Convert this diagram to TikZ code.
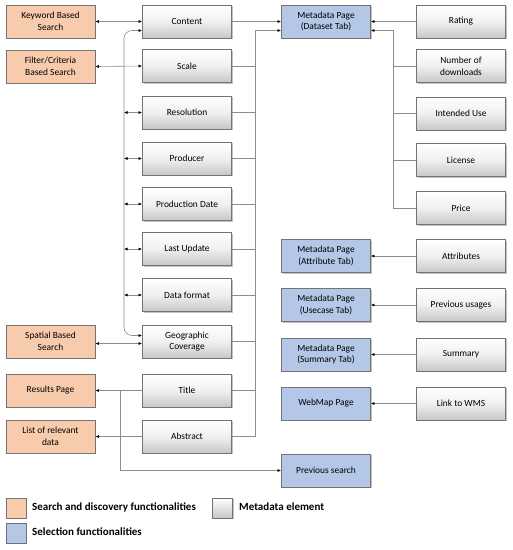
\documentclass[tikz,border=0pt]{standalone}
\usepackage{fontspec}
\setmainfont{Carlito}
\usetikzlibrary{arrows.meta,shadows,calc}
\begin{document}
\begin{tikzpicture}[x=1pt,y=-1pt,
  >={Latex[black,length=3.5pt,width=3pt]},
  box/.style={draw=black!55,line width=0.8pt,minimum width=89pt,minimum height=33pt,align=center,
    font=\fontsize{9.4}{11.6}\selectfont,inner sep=1pt,
    drop shadow={shadow xshift=1pt,shadow yshift=-1pt,fill=black!40,opacity=0.6}},
  sd/.style={box,fill=orange1},
  sel/.style={box,fill=blue1},
  meta/.style={box,top color=white,bottom color=black!22,middle color=black!6},
  con/.style={draw=black!45,line width=0.6pt},
  legtxt/.style={font=\fontsize{11}{13}\selectfont\bfseries,anchor=west,inner sep=0pt},
  legbox/.style={draw=black!55,line width=0.8pt,minimum width=20pt,minimum height=20pt,inner sep=0pt,
    drop shadow={shadow xshift=1pt,shadow yshift=-1pt,fill=black!40,opacity=0.6}}
]
\definecolor{orange1}{RGB}{248,203,173}
\definecolor{blue1}{RGB}{180,199,231}
\useasboundingbox (0,0) rectangle (513,550);
% left column
\node[sd] (kw) at (50.5,21.5) {Keyword Based\\Search};
\node[sd] (fc) at (50.5,66.5) {Filter/Criteria\\Based Search};
\node[sd] (sp) at (50.5,341.5) {Spatial Based\\Search};
\node[sd] (rp) at (50.5,390.5) {Results Page};
\node[sd] (lr) at (50.5,436.5) {List of relevant\\data};
% middle column
\node[meta] (content) at (187,21.5) {Content};
\node[meta] (scale) at (187,66) {Scale};
\node[meta] (res) at (187,112.5) {Resolution};
\node[meta] (prod) at (187,158.5) {Producer};
\node[meta] (pdate) at (187,204) {Production Date};
\node[meta] (lu) at (187,249) {Last Update};
\node[meta] (df) at (187,295) {Data format};
\node[meta] (geo) at (187,341.5) {Geographic\\Coverage};
\node[meta] (title) at (187,390.5) {Title};
\node[meta] (abs) at (187,436.5) {Abstract};
% blue column
\node[sel] (mds) at (326,21.5) {Metadata Page\\(Dataset Tab)};
\node[sel] (mat) at (326,256) {Metadata Page\\(Attribute Tab)};
\node[sel] (muc) at (326,305) {Metadata Page\\(Usecase Tab)};
\node[sel] (msu) at (326,354.5) {Metadata Page\\(Summary Tab)};
\node[sel] (wm) at (326,403.5) {WebMap Page};
\node[sel] (ps) at (326,470.5) {Previous search};
% right column
\node[meta] (rat) at (461,21.5) {Rating};
\node[meta] (nd) at (461,66) {Number of\\downloads};
\node[meta] (iu) at (461,113.5) {Intended Use};
\node[meta] (lic) at (461,160) {License};
\node[meta] (pr) at (461,208) {Price};
\node[meta] (att) at (461,256) {Attributes};
\node[meta] (pu) at (461,305) {Previous usages};
\node[meta] (sum) at (461,354.5) {Summary};
\node[meta] (wms) at (461,403.5) {Link to WMS};
% left connectors
\draw[con,<->] (kw.east) -- (content.west);
\draw[con,<->] (fc.east) -- (scale.west);
\draw[con,<->] ($(sp.east)+(0,2)$) -- ($(geo.west)+(0,2)$);
\draw[con,->] (title.west) -- (rp.east);
\draw[con,->] (abs.west) -- (lr.east);
\coordinate (bl) at (124,0);
\draw[con,<->,rounded corners=8pt] ($(content.west)+(0,9)$) -| (bl |- res.west) |- ($(geo.west)+(0,-6)$);
\foreach \n in {res,prod,pdate,lu,df}{
  \draw[con,<->] (bl |- \n.west) -- (\n.west);
}
\coordinate (rb) at (120,390.5);
\draw[con,->] (rb) |- (ps.west);
% middle-right bus
\coordinate (mb) at (255,0);
\draw[con,->] (content.east) -- (mds.west);
\draw[con,->] (mb |- abs.east) -- (mb |- 0,30.5) -- ($(mds.west)+(0,9)$);
\foreach \n in {scale,res,prod,pdate,lu,df,geo,title,abs}{
  \draw[con] (\n.east) -- (mb |- \n.east);
}
% right bus
\coordinate (rbus) at (393,0);
\draw[con,->] (rat.west) -- (mds.east);
\draw[con,->] (rbus |- pr.west) -- (rbus |- 0,30.5) -- ($(mds.east)+(0,9)$);
\foreach \n in {nd,iu,lic,pr}{
  \draw[con] (\n.west) -- (rbus |- \n.west);
}
\draw[con,->] (att.west) -- (mat.east);
\draw[con,->] (pu.west) -- (muc.east);
\draw[con,->] (sum.west) -- (msu.east);
\draw[con,->] (wms.west) -- (wm.east);
% legend
\node[legbox,fill=orange1] (l1) at (16,508) {};
\node[legtxt] (l1t) at (32,507) {Search and discovery functionalities};
\node[legbox,top color=white,bottom color=black!22] (l2) at (222.5,508) {};
\node[legtxt] (l2t) at (239,507) {Metadata element};
\node[legbox,fill=blue1] (l3) at (16,533) {};
\node[legtxt] (l3t) at (32,532) {Selection functionalities};
\end{tikzpicture}
\end{document}
